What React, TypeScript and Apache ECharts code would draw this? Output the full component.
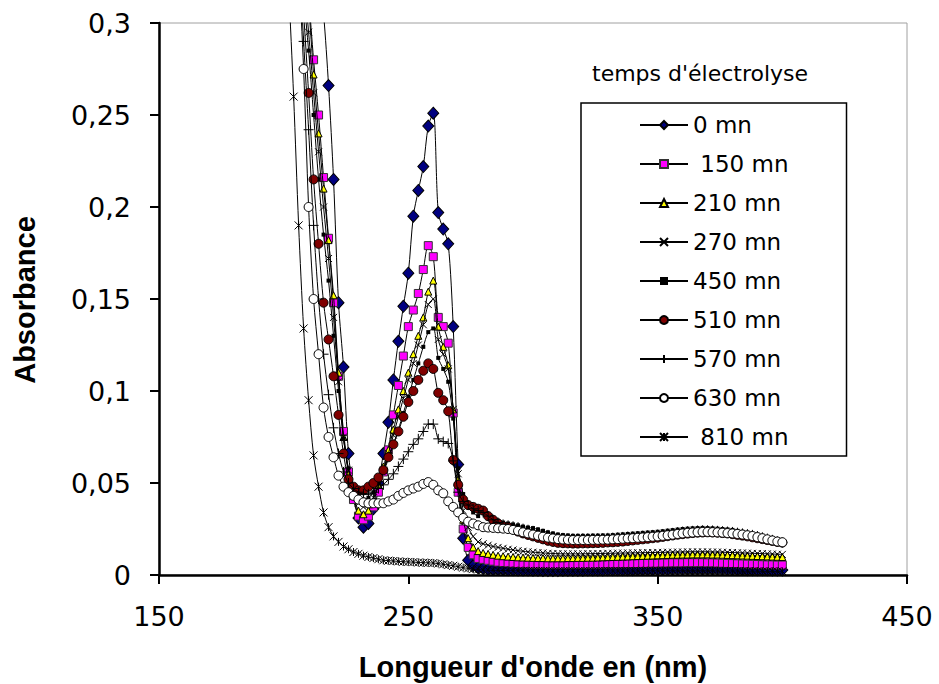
import React, { useEffect, useRef } from 'react';
import * as echarts from 'echarts';

// wavelength grid (nm), every 2 nm from 200 to 400
const wavelengths: number[] = Array.from({ length: 101 }, (_, i) => 200 + 2 * i);

const xTicks = [150, 250, 350, 450];
const yTicks = [0, 0.05, 0.1, 0.15, 0.2, 0.25, 0.3];

const names = ['0 mn', ' 150 mn', '210 mn', '270 mn', '450 mn', '510 mn', '570 mn', '630 mn', ' 810 mn'];

const s0 = [
  0.62, 0.57, 0.52, 0.47, 0.43, 0.39, 0.36, 0.33, 0.305, 0.266,
  0.215, 0.148, 0.113, 0.066, 0.045, 0.031, 0.026, 0.028, 0.036, 0.05,
  0.066, 0.083, 0.106, 0.127, 0.146, 0.164, 0.195, 0.209, 0.222, 0.244,
  0.251, 0.197, 0.188, 0.18, 0.135, 0.06, 0.02, 0.008, 0.005, 0.004,
  0.0035, 0.003, 0.003, 0.003, 0.003, 0.0028, 0.0028, 0.0027, 0.0027, 0.0027,
  0.0026, 0.0026, 0.0025, 0.0025, 0.0025, 0.0025, 0.0026, 0.0026, 0.0026, 0.0026,
  0.0026, 0.0027, 0.0027, 0.0027, 0.0027, 0.0028, 0.0028, 0.0028, 0.0028, 0.0029,
  0.0029, 0.003, 0.003, 0.003, 0.003, 0.0031, 0.0031, 0.0031, 0.0032, 0.0032,
  0.0032, 0.0033, 0.0033, 0.0033, 0.0033, 0.0033, 0.0033, 0.0032, 0.0032, 0.0031,
  0.0031, 0.003, 0.003, 0.0029, 0.0029, 0.0028, 0.0028, 0.0028, 0.0027, 0.0027,
  0.0027,
];

const s150 = [
  0.5, 0.45, 0.41, 0.38, 0.35, 0.315, 0.28, 0.25, 0.216, 0.183,
  0.148, 0.108, 0.078, 0.056, 0.041, 0.032, 0.03, 0.032, 0.037, 0.045,
  0.056, 0.068, 0.087, 0.103, 0.119, 0.135, 0.144, 0.153, 0.166, 0.179,
  0.173, 0.14, 0.135, 0.126, 0.088, 0.045, 0.025, 0.015, 0.011, 0.009,
  0.0085, 0.008, 0.0075, 0.007, 0.0068, 0.0066, 0.0064, 0.0062, 0.006, 0.006,
  0.0058, 0.0058, 0.0057, 0.0057, 0.0056, 0.0056, 0.0056, 0.0056, 0.0057, 0.0057,
  0.0057, 0.0058, 0.0058, 0.0059, 0.0059, 0.006, 0.006, 0.006, 0.0061, 0.0061,
  0.0062, 0.0062, 0.0063, 0.0063, 0.0064, 0.0064, 0.0065, 0.0065, 0.0066, 0.0066,
  0.0066, 0.0067, 0.0067, 0.0067, 0.0067, 0.0066, 0.0066, 0.0065, 0.0064, 0.0063,
  0.0062, 0.0061, 0.006, 0.0059, 0.0058, 0.0057, 0.0056, 0.0055, 0.0055, 0.0054,
  0.0054,
];

const s210 = [
  0.5, 0.44, 0.4, 0.37, 0.34, 0.31, 0.272, 0.24, 0.21, 0.182,
  0.152, 0.11, 0.075, 0.055, 0.043, 0.035, 0.033, 0.035, 0.04, 0.049,
  0.059, 0.068, 0.079, 0.09, 0.1, 0.11, 0.12, 0.13, 0.14, 0.154,
  0.16, 0.135, 0.124, 0.114, 0.09, 0.052, 0.03, 0.02, 0.015, 0.013,
  0.012, 0.0115, 0.011, 0.0105, 0.0102, 0.01, 0.0098, 0.0096, 0.0095, 0.0094,
  0.0093, 0.0092, 0.0092, 0.0091, 0.0091, 0.0091, 0.0091, 0.0092, 0.0092, 0.0093,
  0.0093, 0.0094, 0.0094, 0.0095, 0.0096, 0.0097, 0.0098, 0.0099, 0.01, 0.0101,
  0.0102, 0.0103, 0.0104, 0.0105, 0.0106, 0.0107, 0.0108, 0.0109, 0.011, 0.011,
  0.0111, 0.0111, 0.0112, 0.0112, 0.0112, 0.0112, 0.0111, 0.0111, 0.011, 0.0109,
  0.0108, 0.0107, 0.0106, 0.0105, 0.0104, 0.0103, 0.0102, 0.0101, 0.01, 0.0099,
  0.0098,
];

const s270 = [
  0.48, 0.43, 0.39, 0.355, 0.325, 0.295, 0.262, 0.23, 0.2, 0.172,
  0.14, 0.105, 0.075, 0.057, 0.046, 0.039, 0.037, 0.038, 0.042, 0.049,
  0.057, 0.066, 0.076, 0.086, 0.096, 0.106, 0.115, 0.125, 0.136, 0.147,
  0.15, 0.128, 0.12, 0.112, 0.09, 0.055, 0.035, 0.026, 0.021, 0.018,
  0.017, 0.0162, 0.0155, 0.015, 0.0145, 0.014, 0.0136, 0.0132, 0.0129, 0.0126,
  0.0124, 0.0122, 0.012, 0.0118, 0.0117, 0.0116, 0.0115, 0.0115, 0.0115, 0.0115,
  0.0115, 0.0116, 0.0116, 0.0117, 0.0117, 0.0118, 0.0118, 0.0119, 0.0119, 0.012,
  0.012, 0.0121, 0.0121, 0.0122, 0.0122, 0.0123, 0.0123, 0.0124, 0.0124, 0.0125,
  0.0125, 0.0126, 0.0126, 0.0126, 0.0126, 0.0126, 0.0125, 0.0125, 0.0124, 0.0123,
  0.0122, 0.0121, 0.012, 0.0119, 0.0118, 0.0117, 0.0116, 0.0115, 0.0114, 0.0113,
  0.0112,
];

const s450 = [
  0.46, 0.415, 0.38, 0.345, 0.315, 0.285, 0.25, 0.215, 0.185, 0.16,
  0.13, 0.1, 0.074, 0.058, 0.049, 0.043, 0.041, 0.042, 0.045, 0.05,
  0.056, 0.063, 0.071, 0.079, 0.088, 0.097, 0.106, 0.115, 0.124, 0.132,
  0.134, 0.118, 0.112, 0.105, 0.085, 0.058, 0.044, 0.038, 0.034, 0.032,
  0.036, 0.033, 0.031, 0.0295, 0.0285, 0.028, 0.0275, 0.027, 0.0263, 0.0258,
  0.0255, 0.0248, 0.024, 0.0232, 0.0226, 0.022, 0.0217, 0.0215, 0.0213, 0.0213,
  0.0213, 0.0213, 0.0214, 0.0214, 0.0215, 0.0215, 0.0217, 0.0219, 0.0221, 0.0223,
  0.0225, 0.0227, 0.0229, 0.0231, 0.0233, 0.0235, 0.0238, 0.0241, 0.0244, 0.0247,
  0.025, 0.0252, 0.0254, 0.0255, 0.0256, 0.0255, 0.0254, 0.0252, 0.025, 0.0248,
  0.0245, 0.024, 0.0235, 0.023, 0.0225, 0.022, 0.0213, 0.0205, 0.0197, 0.0189,
  0.018,
];

const s510 = [
  0.45, 0.41, 0.375, 0.34, 0.305, 0.262, 0.215, 0.18, 0.148, 0.128,
  0.108, 0.087, 0.066, 0.052, 0.048, 0.046, 0.046, 0.048, 0.05, 0.053,
  0.057, 0.064, 0.071, 0.078, 0.086, 0.094, 0.1, 0.106, 0.111, 0.115,
  0.112, 0.099, 0.095, 0.089, 0.0625, 0.049, 0.041, 0.038, 0.037, 0.036,
  0.035, 0.032, 0.03, 0.028, 0.0265, 0.026, 0.0248, 0.0236, 0.0226, 0.0218,
  0.021, 0.0202, 0.0194, 0.0186, 0.018, 0.0175, 0.0173, 0.0172, 0.0171, 0.0171,
  0.0172, 0.0172, 0.0173, 0.0174, 0.0175, 0.0177, 0.0178, 0.018, 0.0182, 0.0185,
  0.0188, 0.0191, 0.0194, 0.0197, 0.02, 0.0203, 0.0207, 0.0211, 0.0215, 0.0219,
  0.0222, 0.0225, 0.0228, 0.023, 0.0231, 0.0232, 0.0231, 0.023, 0.0228, 0.0226,
  0.0222, 0.0218, 0.0214, 0.021, 0.0205, 0.02, 0.0195, 0.019, 0.0185, 0.018,
  0.0176,
];

const s570 = [
  0.47, 0.42, 0.375, 0.34, 0.29, 0.242, 0.19, 0.15, 0.12, 0.098,
  0.08, 0.066, 0.056, 0.05, 0.047, 0.045, 0.044, 0.044, 0.045, 0.047,
  0.049, 0.052, 0.055, 0.059, 0.063, 0.067, 0.071, 0.074, 0.078, 0.082,
  0.082, 0.074, 0.0725, 0.0715, 0.062, 0.045, 0.04, 0.038, 0.036, 0.035,
  0.034, 0.032, 0.03, 0.0285, 0.0275, 0.027, 0.0265, 0.026, 0.0252, 0.0246,
  0.024, 0.0233, 0.0225, 0.0218, 0.0211, 0.0205, 0.0202, 0.02, 0.0199, 0.0199,
  0.02, 0.02, 0.02, 0.0201, 0.0201, 0.0202, 0.0203, 0.0205, 0.0207, 0.0209,
  0.021, 0.0212, 0.0214, 0.0216, 0.0218, 0.022, 0.0223, 0.0226, 0.0229, 0.0233,
  0.0236, 0.0238, 0.024, 0.0242, 0.0243, 0.0243, 0.0242, 0.024, 0.0238, 0.0236,
  0.0234, 0.023, 0.0226, 0.0222, 0.0218, 0.0212, 0.0205, 0.0198, 0.0191, 0.0183,
  0.0176,
];

const s630 = [
  0.48, 0.42, 0.37, 0.33, 0.275, 0.2, 0.15, 0.12, 0.091, 0.075,
  0.064, 0.054, 0.048, 0.045, 0.043, 0.041, 0.0395, 0.039, 0.039, 0.039,
  0.039, 0.04, 0.041, 0.043, 0.0446, 0.046, 0.047, 0.048, 0.0495, 0.0505,
  0.049, 0.046, 0.0444, 0.04, 0.037, 0.034, 0.031, 0.029, 0.028, 0.027,
  0.026, 0.0258, 0.0256, 0.0254, 0.0252, 0.025, 0.0245, 0.024, 0.0232, 0.0226,
  0.022, 0.0214, 0.0208, 0.0203, 0.0199, 0.0195, 0.0193, 0.0191, 0.019, 0.019,
  0.019, 0.019, 0.0191, 0.0191, 0.0192, 0.0192, 0.0194, 0.0195, 0.0197, 0.0199,
  0.02, 0.0202, 0.0204, 0.0206, 0.0208, 0.021, 0.0213, 0.0216, 0.0219, 0.0223,
  0.0226, 0.0229, 0.0231, 0.0233, 0.0234, 0.0234, 0.0233, 0.0232, 0.023, 0.0228,
  0.0226, 0.0223, 0.022, 0.0216, 0.0212, 0.0206, 0.02, 0.0194, 0.0188, 0.0182,
  0.0178,
];

const s810 = [
  0.38, 0.32, 0.26, 0.19, 0.134, 0.095, 0.065, 0.048, 0.034, 0.026,
  0.021, 0.018, 0.0155, 0.014, 0.0125, 0.0115, 0.0105, 0.0098, 0.0092, 0.0086,
  0.008, 0.0078, 0.0076, 0.0074, 0.0072, 0.0071, 0.007, 0.0068, 0.0067, 0.0066,
  0.0065, 0.0062, 0.0058, 0.0054, 0.005, 0.0045, 0.004, 0.0036, 0.0032, 0.003,
  0.0027, 0.0026, 0.0025, 0.0025, 0.0024, 0.0024, 0.0023, 0.0023, 0.0023, 0.0022,
  0.0022, 0.0022, 0.0022, 0.0021, 0.0021, 0.0021, 0.0021, 0.0021, 0.0021, 0.0021,
  0.0021, 0.0021, 0.0021, 0.0021, 0.0022, 0.0022, 0.0022, 0.0022, 0.0022, 0.0022,
  0.0022, 0.0022, 0.0023, 0.0023, 0.0023, 0.0023, 0.0023, 0.0023, 0.0023, 0.0023,
  0.0023, 0.0023, 0.0023, 0.0023, 0.0023, 0.0023, 0.0023, 0.0022, 0.0022, 0.0022,
  0.0022, 0.0022, 0.0021, 0.0021, 0.0021, 0.0021, 0.002, 0.002, 0.002, 0.002,
  0.002,
];

const seriesValues = [s0, s150, s210, s270, s450, s510, s570, s630, s810];

const X_PATH = 'path://M0,0L10,10M0,10L10,0';
const PLUS_PATH = 'path://M5,0L5,10M0,5L10,5';
const STAR_PATH = 'path://M0,0L10,10M0,10L10,0M5,0L5,10';

const markerStyles: any[] = [
  { symbol: 'diamond', symbolSize: [11, 12], itemStyle: { color: '#000080', borderColor: '#000', borderWidth: 1 } },
  { symbol: 'rect', symbolSize: 8, itemStyle: { color: '#FF00FF', borderColor: '#333', borderWidth: 1 } },
  { symbol: 'triangle', symbolSize: 7, itemStyle: { color: '#FFFF00', borderColor: '#000', borderWidth: 1 } },
  { symbol: X_PATH, symbolSize: 7, itemStyle: { color: '#000', borderColor: '#000', borderWidth: 1 } },
  { symbol: 'rect', symbolSize: 4, itemStyle: { color: '#000', borderColor: '#000', borderWidth: 0 } },
  { symbol: 'circle', symbolSize: 9, itemStyle: { color: '#800000', borderColor: '#000', borderWidth: 1 } },
  { symbol: PLUS_PATH, symbolSize: 10, itemStyle: { color: '#000', borderColor: '#000', borderWidth: 1 } },
  { symbol: 'circle', symbolSize: 9, itemStyle: { color: '#fff', borderColor: '#000', borderWidth: 1 } },
  { symbol: STAR_PATH, symbolSize: 8, itemStyle: { color: '#000', borderColor: '#000', borderWidth: 1 } },
];

const fmtY = (v: number) => String(Math.round(v * 100) / 100).replace('.', ',');

export default function App() {
  const ref = useRef<HTMLDivElement>(null);
  useEffect(() => {
    if (!ref.current) return;
    const chart = echarts.init(ref.current, null, { renderer: 'svg' });
    const series = seriesValues.map((vals, k) => ({
      name: names[k],
      type: 'line',
      data: wavelengths.map((w, i) => [w, vals[i]]),
      smooth: 0.3,
      showSymbol: true,
      showAllSymbol: true,
      clip: true,
      symbol: markerStyles[k].symbol,
      symbolSize: markerStyles[k].symbolSize,
      itemStyle: markerStyles[k].itemStyle,
      lineStyle: { color: '#000', width: 1 },
      emphasis: { disabled: true },
      z: 2 + k,
    }));
    chart.setOption({
      animation: false,
      backgroundColor: '#fff',
      title: {
        text: "temps d'électrolyse",
        left: 592,
        top: 62,
        textStyle: { fontFamily: 'DejaVu Sans', fontSize: 22, fontWeight: 'normal', color: '#000' },
        padding: 0,
      },
      legend: {
        orient: 'vertical',
        left: 581,
        top: 103,
        data: names,
        itemWidth: 48,
        itemHeight: 10,
        itemGap: 11,
        padding: [8, 58, 5, 58],
        borderColor: '#000',
        borderWidth: 1.5,
        backgroundColor: '#fff',
        textStyle: { fontFamily: 'DejaVu Sans', fontSize: 23, color: '#000', lineHeight: 28 },
        selectedMode: false,
      },
      grid: { left: 159, right: 32, top: 23, bottom: 109, containLabel: false, outerBoundsMode: 'none', show: true, borderColor: '#a0a0a0', borderWidth: 1 },
      xAxis: {
        type: 'value',
        min: xTicks[0],
        max: xTicks[xTicks.length - 1],
        interval: 100,
        axisLine: { lineStyle: { color: '#000', width: 2.5 } },
        axisTick: { show: true, length: 9, lineStyle: { color: '#000', width: 2 } },
        splitLine: { show: false },
        axisLabel: { margin: 28, fontFamily: 'DejaVu Sans', fontSize: 27, color: '#000', formatter: (v: number) => String(v) },
      },
      yAxis: {
        type: 'value',
        min: yTicks[0],
        max: yTicks[yTicks.length - 1],
        interval: 0.05,
        axisLine: { show: true, lineStyle: { color: '#000', width: 2.5 } },
        axisTick: { show: true, length: 9, lineStyle: { color: '#000', width: 2 } },
        splitLine: { show: false },
        axisLabel: { margin: 28, fontFamily: 'DejaVu Sans', fontSize: 27, color: '#000', formatter: fmtY },
      },
      graphic: [
        {
          type: 'text',
          x: 533,
          y: 667,
          style: {
            text: "Longueur d'onde en (nm)",
            font: 'bold 29px "Liberation Sans", Arial, sans-serif',
            fill: '#000',
            textAlign: 'center',
            textVerticalAlign: 'middle',
            align: 'center',
            verticalAlign: 'middle',
          },
        },
        {
          type: 'text',
          x: 25,
          y: 300,
          rotation: Math.PI / 2,
          style: {
            text: 'Absorbance',
            font: 'bold 29px "Liberation Sans", Arial, sans-serif',
            fill: '#000',
            textAlign: 'center',
            textVerticalAlign: 'middle',
            align: 'center',
            verticalAlign: 'middle',
          },
        },
      ],
      series,
    });
    return () => chart.dispose();
  }, []);
  return (
    <div
      ref={ref}
      style={{ position: 'fixed', left: 0, top: 0, width: 939, height: 684, background: '#fff' }}
    />
  );
}
